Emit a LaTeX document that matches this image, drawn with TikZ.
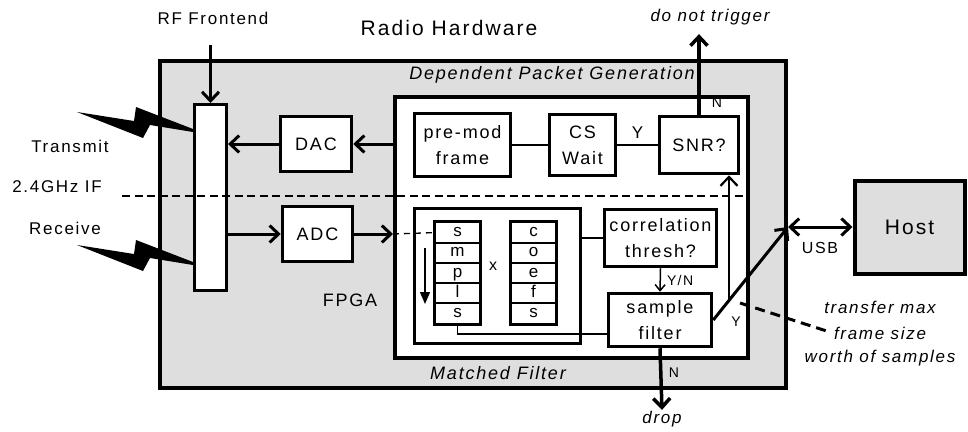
\documentclass[tikz,border=0pt]{standalone}
\usepackage{fontspec}
\setmainfont{Liberation Sans}[LetterSpace=10]
\usetikzlibrary{arrows.meta,positioning}
\definecolor{hwgray}{RGB}{222,222,222}
\begin{document}
\begin{tikzpicture}[x=1pt,y=-1pt,
    box/.style={draw, line width=3.5pt, fill=white, inner sep=0pt, align=center,
      font=\fontsize{18}{26}\selectfont},
    cell/.style={draw, line width=1.8pt, fill=white, inner sep=0pt, minimum width=44pt,
      minimum height=20.2pt, text height=11pt, text depth=3pt, font=\fontsize{17}{20}\selectfont},
    lbl/.style={inner sep=1pt, font=\fontsize{17}{25}\selectfont},
    small/.style={inner sep=1pt, font=\fontsize{14}{16}\selectfont},
    arr/.style={line width=3pt, -{Straight Barb[length=9pt,width=17pt]}},
    dbl/.style={line width=3pt, {Straight Barb[length=9pt,width=17pt]}-{Straight Barb[length=9pt,width=17pt]}},
    thinarr/.style={line width=1.5pt, -{Straight Barb[length=6pt,width=10pt]}},
    thinline/.style={line width=1.3pt}]
\useasboundingbox (0,0) rectangle (968,431);

% outer hardware and fpga area
\node[draw, line width=4pt, fill=hwgray, minimum width=626pt, minimum height=327pt] (hw) at (473,224.5) {};
\node[draw, line width=4pt, fill=white, minimum width=353pt, minimum height=261pt] (dpg) at (571.5,227.5) {};

\node[lbl, font=\fontsize{21}{24}\selectfont] (title) at (449,28) {Radio Hardware};
\node[lbl] (rf) at (213,18) {RF Frontend};
\node[lbl] (tx) at (70,146) {Transmit};
\node[lbl] (if) at (57,187) {2.4GHz IF};
\node[lbl] (rx) at (65,228) {Receive};
\node[lbl, font=\fontsize{18}{20}\selectfont] (fpga) at (350,300) {FPGA};
\node[lbl, font=\fontsize{18}{20}\itshape] (dpgl) at (552,75) {Dependent Packet Generation};
\node[lbl, font=\fontsize{18}{20}\itshape] (mfl) at (498,373) {Matched Filter};

% radio side
\node[box, line width=3pt, minimum width=32pt, minimum height=186pt] (front) at (210.5,197.5) {};
\node[box, minimum width=71pt, minimum height=55pt] (dac) at (316,144) {DAC};
\node[box, minimum width=70pt, minimum height=55pt] (adc) at (317.5,234) {ADC};

\foreach \dy in {0,133}
  \fill[shift={(0,\dy)}] (77,112) -- (134,121) -- (136,107) -- (193,129) -- (193,132)
    -- (150,125) -- (143,138) -- cycle;

% packet generation
\node[box, minimum width=96pt, minimum height=63pt] (premod) at (462.5,145) {pre-mod\\frame};
\node[box, minimum width=66pt, minimum height=61pt] (cswait) at (582.5,145) {CS\\Wait};
\node[box, minimum width=79pt, minimum height=57pt] (snr) at (699,145) {SNR?};

% matched filter
\node[box, minimum width=166pt, minimum height=135pt] (mf) at (497.5,276) {};
\foreach \c [count=\i] in {s,m,p,l,s}
  \node[cell] (s\i) at (457.5, 212.4+20.2*\i) {\c};
\foreach \c [count=\i] in {c,o,e,f,s}
  \node[cell] (c\i) at (533.5, 212.4+20.2*\i) {\c};
\draw[line width=3.5pt] (s1.north west) rectangle (s5.south east);
\draw[line width=3.5pt] (c1.north west) rectangle (c5.south east);
\node[small, font=\fontsize{16}{18}\selectfont] (times) at (493,266) {x};
\coordinate (shtop) at (425,248);
\coordinate (shbot) at (425,304);
\draw[thinline, -{Triangle[length=12pt,width=10pt]}] (shtop) -- (shbot);

\node[box, minimum width=112pt, minimum height=57pt] (corr) at (660.5,238) {correlation\\thresh?};
\node[box, minimum width=103pt, minimum height=53pt] (sfilt) at (660,320) {sample\\filter};

\node[draw, line width=4pt, fill=hwgray, minimum width=110pt, minimum height=93pt,
  font=\fontsize{21}{24}\selectfont] (host) at (909.5,227) {Host};

% connectors
\draw[arr, shorten <=20pt] (rf.south -| front.north) -- (front.north);
\draw[arr] (dac.east -| dpg.west) -- (dac.east);
\draw[arr] (dac.west) -- (dac.west -| front.east);
\draw[arr] (adc.west -| front.east) -- (adc.west);
\draw[arr] (adc.east) -- (adc.east -| dpg.west);
\draw[thinline, dash pattern=on 6pt off 5pt] (adc.east -| dpg.west) -- (s1.west);
\draw[line width=2pt, dash pattern=on 8pt off 4.5pt] (122,196) -- (750,196);

\draw[thinline] (premod) -- (cswait);
\draw[thinline] (cswait) -- node[small, font=\fontsize{17}{20}\selectfont, above=5pt] {Y} (snr);
\node[lbl, font=\fontsize{17}{20}\itshape] (nt) at (710,17) {do not trigger};
\draw[arr, line width=3.5pt, shorten >=8pt] (snr.north) -- (snr.north |- nt.south);
\node[small] (nlab) at (717,103) {N};

\draw[thinline] (corr.west -| mf.east) -- (corr.west);
\draw[thinarr] (corr.south) -- node[small, right=5pt] {Y/N} (sfilt.north);
\draw[thinline] (s5.south) |- ([yshift=-14pt]sfilt.west);

\node[lbl, font=\fontsize{17}{20}\itshape] (drop) at (662,419) {drop};
\draw[arr, line width=3.5pt] (sfilt.south) -- (drop.north);
\node[small] (ndrop) at (674,373) {N};

\coordinate (usb) at (hw.east |- host.west);
\draw[arr] (sfilt.east) -- (usb);
\coordinate (br) at (729,300);
\draw[arr, line width=2.2pt] (br) -- (br |- snr.south);
\node[small] (ylab) at (736,322) {Y};
\draw[dbl] (usb) -- (host.west);
\node[lbl, font=\fontsize{16}{18}\selectfont] (usbl) at (820,248) {USB};

\node[lbl, font=\fontsize{17}{20}\itshape] (t1) at (880,307) {transfer max};
\node[lbl, font=\fontsize{17}{20}\itshape] (t2) at (880,333) {frame size};
\node[lbl, font=\fontsize{17}{20}\itshape] (t3) at (880,358) {worth of samples};
\coordinate (ytip) at (740,303);
\draw[line width=3pt, dash pattern=on 10pt off 6pt, shorten >=6pt] (ytip) -- (t2.west);
\end{tikzpicture}
\end{document}
